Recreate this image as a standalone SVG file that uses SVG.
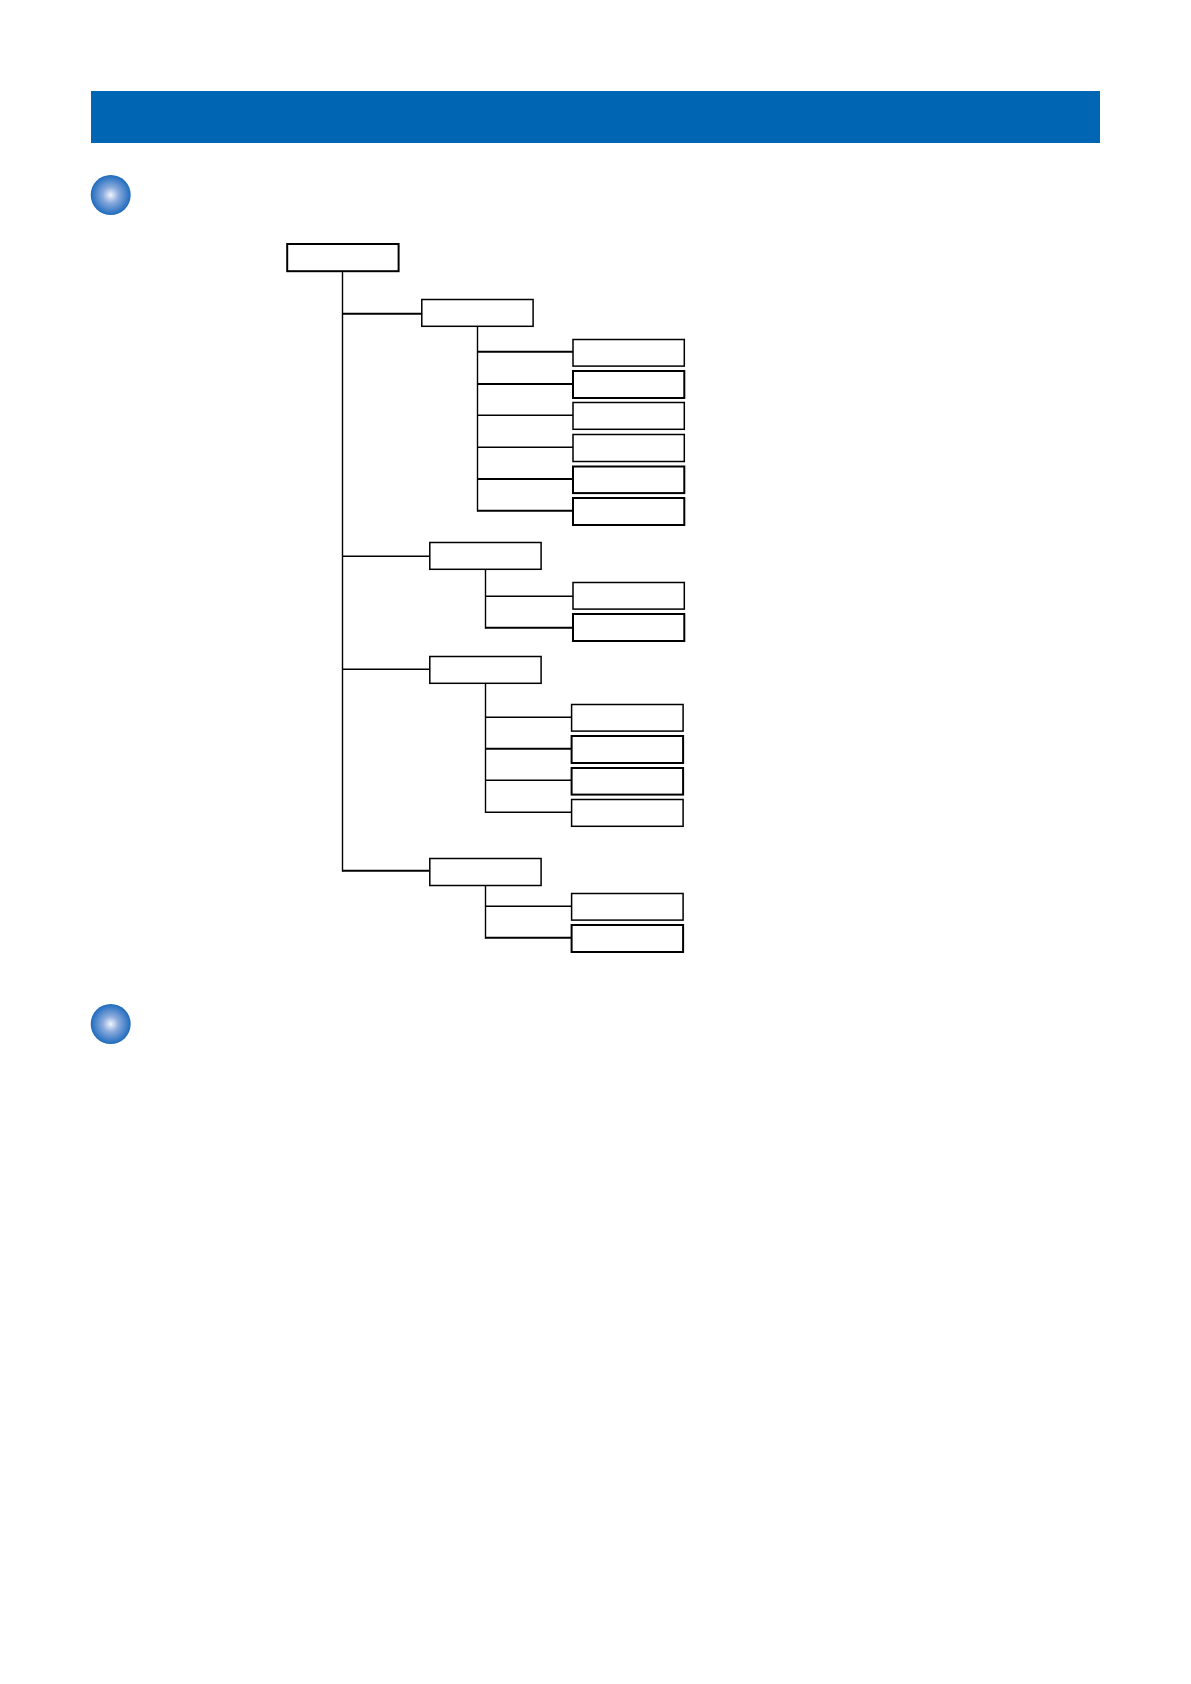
<svg xmlns="http://www.w3.org/2000/svg" width="1191" height="1684" viewBox="0 0 1191 1684">
<style>
.n{fill:#fff;stroke:#000;stroke-width:1.5}
.h{fill:#fff;stroke:#000;stroke-width:2}
#connectors line{stroke:#000;stroke-width:1.4}
#connectors line.t{stroke-width:2.1}
</style>
<defs>
<radialGradient id="ball" cx="0.5" cy="0.5" r="0.5">
<stop offset="0" stop-color="#f2f5fc"/>
<stop offset="0.4" stop-color="#8aaadd"/>
<stop offset="1" stop-color="#1f6bbd"/>
</radialGradient>
</defs>
<rect width="1191" height="1684" fill="#fff"/>
<rect id="banner" x="91" y="91" width="1009" height="52" fill="#0066b3"/>
<circle id="bullet1" cx="110.7" cy="195" r="20" fill="url(#ball)"/>
<circle id="bullet2" cx="110.7" cy="1024" r="20" fill="url(#ball)"/>
<g id="connectors">
<line x1="342.5" y1="271" x2="342.5" y2="871.5"/>
<line class="t" x1="342" y1="313.7" x2="422" y2="313.7"/>
<line x1="342" y1="556.3" x2="430" y2="556.3"/>
<line x1="342" y1="669.3" x2="430" y2="669.3"/>
<line class="t" x1="342" y1="870.7" x2="430" y2="870.7"/>
<line x1="477.5" y1="326" x2="477.5" y2="511.5"/>
<line class="t" x1="477" y1="351.7" x2="573" y2="351.7"/>
<line class="t" x1="477" y1="384" x2="573" y2="384"/>
<line x1="477" y1="415.3" x2="573" y2="415.3"/>
<line x1="477" y1="447.3" x2="573" y2="447.3"/>
<line class="t" x1="477" y1="479" x2="573" y2="479"/>
<line class="t" x1="477" y1="510.7" x2="573" y2="510.7"/>
<line x1="485.5" y1="569" x2="485.5" y2="628.5"/>
<line x1="485" y1="596.3" x2="573" y2="596.3"/>
<line class="t" x1="485" y1="627.7" x2="573" y2="627.7"/>
<line x1="485.5" y1="683" x2="485.5" y2="813"/>
<line x1="485" y1="717.3" x2="572" y2="717.3"/>
<line class="t" x1="485" y1="748.7" x2="572" y2="748.7"/>
<line x1="485" y1="780.3" x2="572" y2="780.3"/>
<line x1="485" y1="812.3" x2="572" y2="812.3"/>
<line x1="485.5" y1="885" x2="485.5" y2="938.5"/>
<line x1="485" y1="906.3" x2="572" y2="906.3"/>
<line class="t" x1="485" y1="937.7" x2="572" y2="937.7"/>
</g>
<g id="root"><rect class="h" x="287.2" y="244" width="111.4" height="27.2"/></g>
<g id="a"><rect class="n" x="421.8" y="299.5" width="111.3" height="26.8"/></g>
<g id="a1"><rect class="n" x="573" y="339.5" width="111.3" height="26.6"/></g>
<g id="a2"><rect class="h" x="573" y="371" width="111.3" height="27"/></g>
<g id="a3"><rect class="n" x="573" y="402.5" width="111.3" height="26.8"/></g>
<g id="a4"><rect class="n" x="573" y="434.5" width="111.3" height="27"/></g>
<g id="a5"><rect class="h" x="573" y="466.5" width="111.3" height="26.6"/></g>
<g id="a6"><rect class="h" x="573" y="498" width="111.3" height="27"/></g>
<g id="b"><rect class="n" x="429.8" y="542.5" width="111.3" height="26.8"/></g>
<g id="b1"><rect class="n" x="573" y="582.5" width="111.3" height="26.6"/></g>
<g id="b2"><rect class="h" x="573" y="614" width="111.3" height="27"/></g>
<g id="c"><rect class="n" x="429.8" y="656.5" width="111.3" height="26.8"/></g>
<g id="c1"><rect class="n" x="571.6" y="704.5" width="111.5" height="26.6"/></g>
<g id="c2"><rect class="h" x="571.6" y="736" width="111.5" height="27"/></g>
<g id="c3"><rect class="h" x="571.6" y="768" width="111.5" height="26.6"/></g>
<g id="c4"><rect class="n" x="571.6" y="799.5" width="111.5" height="26.8"/></g>
<g id="d"><rect class="n" x="429.8" y="858.5" width="111.3" height="27"/></g>
<g id="d1"><rect class="n" x="571.6" y="893.5" width="111.5" height="26.6"/></g>
<g id="d2"><rect class="h" x="571.6" y="925" width="111.5" height="27"/></g>
</svg>
